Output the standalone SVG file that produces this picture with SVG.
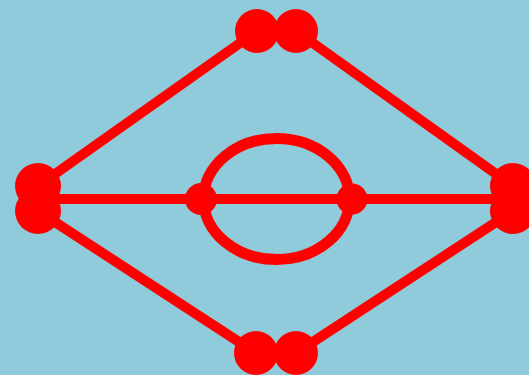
<svg xmlns="http://www.w3.org/2000/svg" width="529" height="375" viewBox="0 0 529 375">
<style>
.e{stroke:#ff0000;stroke-width:10;fill:none;stroke-linecap:butt}
.n{fill:#ff0000}
</style>
<rect width="529" height="375" fill="#90cbdb"/>
<g id="edges">
<line class="e" x1="38" y1="186" x2="257" y2="31"/>
<line class="e" x1="296" y1="31" x2="513" y2="186"/>
<line class="e" x1="38" y1="211" x2="256" y2="353"/>
<line class="e" x1="296" y1="353" x2="513" y2="211"/>
<line class="e" x1="38" y1="199" x2="513" y2="199"/>
<ellipse class="e" cx="276.5" cy="199" rx="73" ry="60.5" style="stroke-width:11"/>
</g>
<g id="n1"><circle class="n" cx="38" cy="186" r="23"/></g>
<g id="n2"><circle class="n" cx="38" cy="211" r="23"/></g>
<g id="n3"><circle class="n" cx="257" cy="31" r="22"/></g>
<g id="n4"><circle class="n" cx="296" cy="31" r="22"/></g>
<g id="n5"><circle class="n" cx="256" cy="353" r="22"/></g>
<g id="n6"><circle class="n" cx="296" cy="353" r="22"/></g>
<g id="n7"><circle class="n" cx="513" cy="186" r="23"/></g>
<g id="n8"><circle class="n" cx="513" cy="211" r="23"/></g>
<g id="n9"><circle class="n" cx="201" cy="199" r="16"/></g>
<g id="n10"><circle class="n" cx="352" cy="199" r="15.5"/></g>
</svg>
